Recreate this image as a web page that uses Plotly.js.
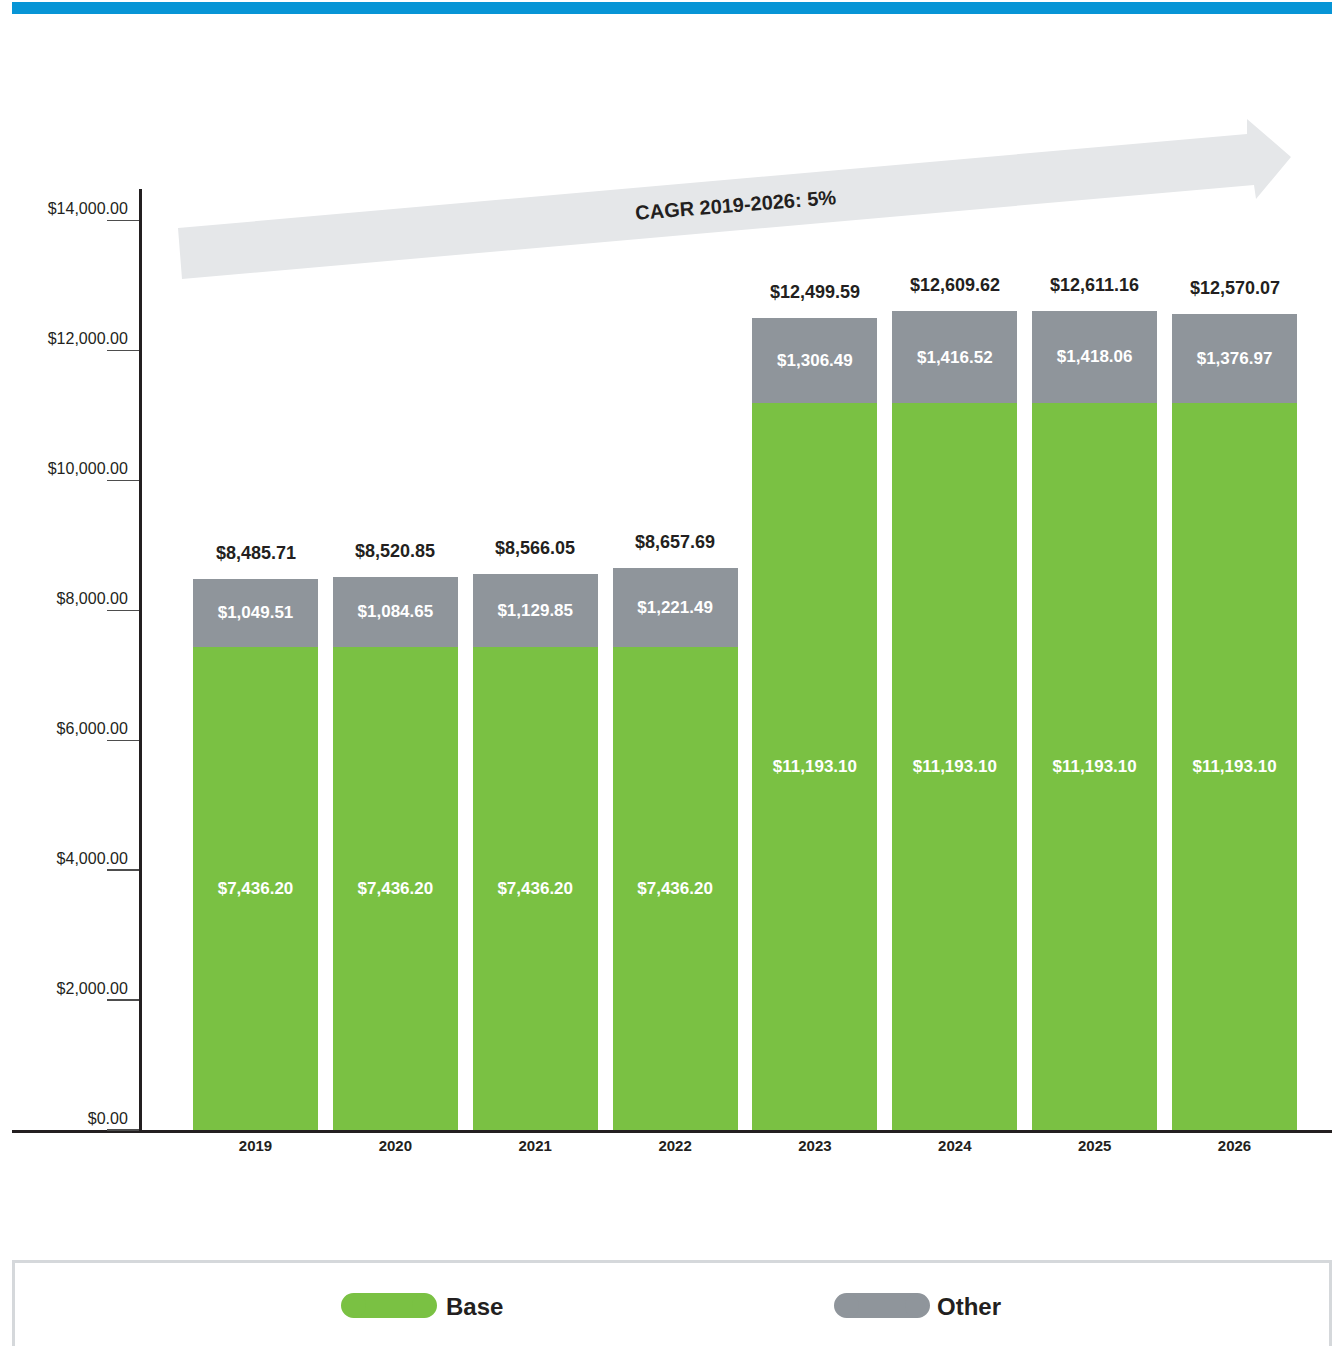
<!DOCTYPE html>
<html><head><meta charset="utf-8">
<script src="https://cdn.plot.ly/plotly-3.0.1.min.js"></script>
<style>html,body{margin:0;padding:0;background:#fff}</style>
</head><body><div id="chart" style="width:1334px;height:1346px"></div>
<script>
// ---- data ----
const years = ['2019','2020','2021','2022','2023','2024','2025','2026'];
const baseValues = [7436.20,7436.20,7436.20,7436.20,11193.10,11193.10,11193.10,11193.10];
const otherValues = [1049.51,1084.65,1129.85,1221.49,1306.49,1416.52,1418.06,1376.97];
const totalValues = [8485.71,8520.85,8566.05,8657.69,12499.59,12609.62,12611.16,12570.07];
const yTickValues = [0,2000,4000,6000,8000,10000,12000,14000];
const yTickLabels = ['$0.00','$2,000.00','$4,000.00','$6,000.00','$8,000.00','$10,000.00','$12,000.00','$14,000.00'];
const seriesNames = ['Base','Other'];
const cagrLabel = 'CAGR 2019-2026: 5%';

// ---- style ----
const FONT = 'Liberation Sans, Arial, Helvetica, sans-serif';
const DARK = '#231f20';
const GREEN = '#7ac143';
const GRAY = '#8f959b';
const W = 1334, H = 1346, L = 12, R = 2, T = 189, B = 216;
const PW = W - L - R, PH = H - T - B;
const fx = px => (px - L) / PW;
const fy = py => (H - B - py) / PH;
const money = v => '$' + v.toLocaleString('en-US', {minimumFractionDigits: 2, maximumFractionDigits: 2});

const traces = [
  {type: 'bar', x: years, y: baseValues, name: seriesNames[0],
   marker: {color: GREEN, line: {width: 0}},
   text: baseValues.map(money), textposition: 'inside', insidetextanchor: 'middle',
   textangle: 0, constraintext: 'none',
   textfont: {family: FONT, size: 17, color: '#ffffff', weight: 'bold'}},
  {type: 'bar', x: years, y: otherValues, name: seriesNames[1],
   marker: {color: GRAY, line: {width: 0}},
   text: otherValues.map(money), textposition: 'inside', insidetextanchor: 'middle',
   textangle: 0, constraintext: 'none',
   textfont: {family: FONT, size: 17, color: '#ffffff', weight: 'bold'}}
];

// totals above each stack (category index used as x position)
const annotations = years.map((yr, i) => ({
  x: i, y: totalValues[i], xref: 'x', yref: 'y', text: money(totalValues[i]),
  showarrow: false, yanchor: 'bottom', xanchor: 'center', yshift: 14,
  font: {family: FONT, size: 18, color: DARK, weight: 'bold'}
}));
annotations.push({
  xref: 'paper', yref: 'paper', x: fx(735), y: fy(205), text: cagrLabel,
  showarrow: false, xanchor: 'center', yanchor: 'middle', textangle: -4.5,
  font: {family: FONT, size: 20, color: DARK, weight: 'bold'}
});
annotations.push({
  xref: 'paper', yref: 'paper', x: fx(444), y: fy(1306), text: seriesNames[0],
  showarrow: false, xanchor: 'left', yanchor: 'middle',
  font: {family: FONT, size: 24, color: DARK, weight: 'bold'}
});
annotations.push({
  xref: 'paper', yref: 'paper', x: fx(935), y: fy(1306), text: seriesNames[1],
  showarrow: false, xanchor: 'left', yanchor: 'middle',
  font: {family: FONT, size: 24, color: DARK, weight: 'bold'}
});

function pill(x0, x1, y0, y1, color) {
  const r = (y1 - y0) / 2;
  return [
    {type: 'rect', xref: 'paper', yref: 'paper', x0: fx(x0 + r), x1: fx(x1 - r), y0: fy(y1), y1: fy(y0), fillcolor: color, line: {width: 0}},
    {type: 'circle', xref: 'paper', yref: 'paper', x0: fx(x0), x1: fx(x0 + 2 * r), y0: fy(y1), y1: fy(y0), fillcolor: color, line: {width: 0}},
    {type: 'circle', xref: 'paper', yref: 'paper', x0: fx(x1 - 2 * r), x1: fx(x1), y0: fy(y1), y1: fy(y0), fillcolor: color, line: {width: 0}}
  ];
}

const arrowPts = [[178,228],[1247,134],[1247,119],[1291,157],[1256,199],[1254,185],[182,279]];
const arrowPath = 'M' + arrowPts.map(p => fx(p[0]) + ',' + fy(p[1])).join(' L') + ' Z';

const shapes = [
  {type: 'rect', xref: 'paper', yref: 'paper', x0: fx(12), x1: fx(1332), y0: fy(14), y1: fy(2), fillcolor: '#0795d6', line: {width: 0}, layer: 'below'},
  {type: 'path', xref: 'paper', yref: 'paper', path: arrowPath, fillcolor: '#e5e7e9', line: {width: 0}, layer: 'below'},
  {type: 'rect', xref: 'paper', yref: 'paper', x0: fx(13.5), x1: fx(1330.5), y0: fy(1370), y1: fy(1261.5), fillcolor: 'rgba(0,0,0,0)', line: {color: '#d5d8db', width: 3}}
].concat(pill(341, 437, 1293, 1318, GREEN), pill(834, 930, 1293, 1318, GRAY));

const layout = {
  width: W, height: H,
  margin: {l: L, r: R, t: T, b: B, pad: 0},
  paper_bgcolor: '#ffffff', plot_bgcolor: 'rgba(0,0,0,0)',
  barmode: 'stack', bargap: 0.1063,
  showlegend: false,
  font: {family: FONT, color: DARK},
  xaxis: {
    type: 'category', range: [-1.741, 7.697], fixedrange: true,
    showline: true, linecolor: DARK, linewidth: 2.5,
    ticks: 'outside', ticklen: 0, tickcolor: 'rgba(0,0,0,0)',
    showgrid: false, zeroline: false,
    tickfont: {family: FONT, size: 15, color: DARK, weight: 'bold'}
  },
  yaxis: {
    type: 'linear', range: [0, 14488], fixedrange: true,
    anchor: 'free', position: fx(140),
    showline: true, linecolor: DARK, linewidth: 3,
    tickmode: 'array', tickvals: yTickValues, ticktext: yTickLabels,
    ticks: 'outside', ticklen: 32, tickwidth: 1.5, tickcolor: '#4d4d4d',
    ticklabelshift: -12, ticklabelstandoff: -24,
    showgrid: false, zeroline: false,
    tickfont: {family: FONT, size: 16, color: DARK}
  },
  annotations: annotations,
  shapes: shapes
};

Plotly.newPlot('chart', traces, layout, {staticPlot: true, displayModeBar: false});
</script>
</body></html>
